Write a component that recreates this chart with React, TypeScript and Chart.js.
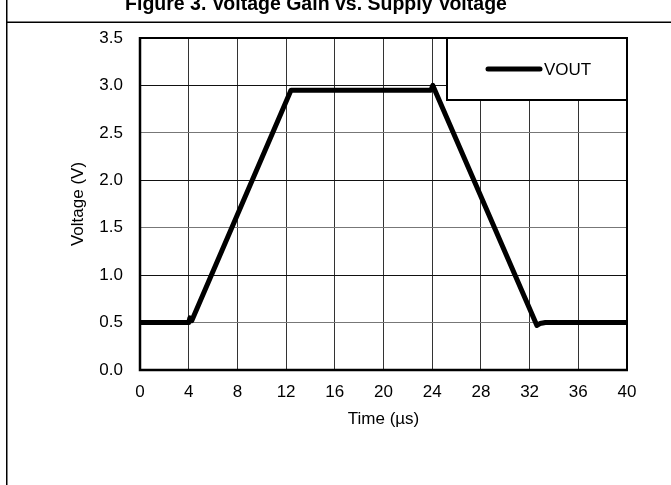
import React, { useEffect, useRef } from "react";
import { Chart, registerables } from "chart.js";

Chart.register(...registerables);

const FONT = "'Liberation Sans', Arial, Helvetica, sans-serif";

const chartTitle = "Figure 3. Voltage Gain vs. Supply Voltage";
const seriesLabel = "VOUT";
const xAxisTitle = "Time (µs)";
const yAxisTitle = "Voltage (V)";

// time in µs
const timeUs = [0, 4.0, 4.1, 4.25, 12.4, 12.7, 23.9, 24.05, 32.6, 32.85, 33.3, 40];
// output voltage in V
const voutV = [0.5, 0.5, 0.55, 0.52, 2.95, 2.95, 2.95, 3.0, 0.47, 0.49, 0.5, 0.5];

const xMin = 0;
const xMax = 40;
const xStep = 4;
const yMin = 0;
const yMax = 3.5;
const yStep = 0.5;

const framePlugin = {
  id: "framePlugin",
  afterDraw(chart: any) {
    const ctx = chart.ctx as CanvasRenderingContext2D;
    const { left, right, top, bottom } = chart.chartArea;
    ctx.save();
    // outer figure frame
    ctx.strokeStyle = "#000";
    ctx.lineWidth = 1.5;
    ctx.beginPath();
    ctx.moveTo(6.75, 0);
    ctx.lineTo(6.75, chart.height);
    ctx.moveTo(6, 22.25);
    ctx.lineTo(chart.width, 22.25);
    ctx.stroke();
    // title
    ctx.fillStyle = "#000";
    ctx.font = `bold 19.5px ${FONT}`;
    ctx.textAlign = "center";
    ctx.textBaseline = "alphabetic";
    ctx.fillText(chartTitle, 316, 9.5);
    // plot border
    ctx.lineWidth = 2;
    ctx.strokeRect(left, top, right - left, bottom - top);
    ctx.lineWidth = 2.5;
    ctx.beginPath();
    ctx.moveTo(left, top - 1);
    ctx.lineTo(left, bottom);
    ctx.lineTo(right + 1, bottom);
    ctx.stroke();
    // legend box
    const lx = 447;
    const ly = top;
    const lw = right - lx;
    const lh = 62;
    ctx.fillStyle = "#fff";
    ctx.fillRect(lx, ly, lw, lh);
    ctx.lineWidth = 2;
    ctx.strokeStyle = "#000";
    ctx.strokeRect(lx, ly, lw, lh);
    ctx.lineWidth = 5;
    ctx.lineCap = "round";
    ctx.beginPath();
    ctx.moveTo(488, ly + 31);
    ctx.lineTo(540, ly + 31);
    ctx.stroke();
    ctx.fillStyle = "#000";
    ctx.font = `17px ${FONT}`;
    ctx.textAlign = "left";
    ctx.textBaseline = "middle";
    ctx.fillText(chart.data.datasets[0].label, 544, ly + 32);
    ctx.restore();
  },
};

export default function App() {
  const canvasRef = useRef<HTMLCanvasElement | null>(null);

  useEffect(() => {
    if (!canvasRef.current) return;
    Chart.defaults.font.family = FONT;
    Chart.defaults.color = "#000";
    const points = timeUs.map((t, i) => ({ x: t, y: voutV[i] }));
    const chart = new Chart(canvasRef.current, {
      type: "line",
      data: {
        datasets: [
          {
            label: seriesLabel,
            data: points,
            borderColor: "#000",
            backgroundColor: "#000",
            borderWidth: 5,
            pointRadius: 0,
            tension: 0,
            borderJoinStyle: "round",
            borderCapStyle: "round",
            fill: false,
          },
        ],
      },
      options: {
        responsive: false,
        animation: false,
        devicePixelRatio: 1,
        layout: { padding: { top: 38, right: 44, left: 0, bottom: 0 } },
        plugins: {
          legend: { display: false },
          title: { display: false },
          tooltip: { enabled: false },
        },
        scales: {
          x: {
            type: "linear",
            min: xMin,
            max: xMax,
            afterFit: (scale: any) => {
              scale.height = 115;
            },
            ticks: {
              stepSize: xStep,
              padding: 12,
              font: { size: 17 },
              color: "#000",
            },
            grid: {
              drawTicks: false,
              color: "#333",
              lineWidth: 1,
            },
            border: { display: false },
            title: {
              display: true,
              text: xAxisTitle,
              font: { size: 17 },
              color: "#000",
              padding: { top: 0, bottom: 55 },
            },
          },
          y: {
            type: "linear",
            min: yMin,
            max: yMax,
            afterFit: (scale: any) => {
              scale.width = 140;
            },
            ticks: {
              stepSize: yStep,
              padding: 17,
              font: { size: 17 },
              color: "#000",
              callback: (v: any) => Number(v).toFixed(1),
            },
            grid: {
              drawTicks: false,
              color: (ctx: any) => {
                const v = ctx.tick ? ctx.tick.value : 0;
                return Math.abs(v - Math.round(v)) < 0.01 ? "#111" : "#777";
              },
              lineWidth: 1,
            },
            border: { display: false },
            title: {
              display: true,
              text: yAxisTitle,
              font: { size: 17 },
              color: "#000",
              padding: { top: 68, bottom: 0 },
            },
          },
        },
      },
      plugins: [framePlugin],
    });
    return () => chart.destroy();
  }, []);

  return (
    <div style={{ position: "absolute", left: 0, top: 0, width: 671, height: 485, background: "#fff" }}>
      <canvas ref={canvasRef} width={671} height={485} style={{ width: 671, height: 485, display: "block" }} />
    </div>
  );
}
